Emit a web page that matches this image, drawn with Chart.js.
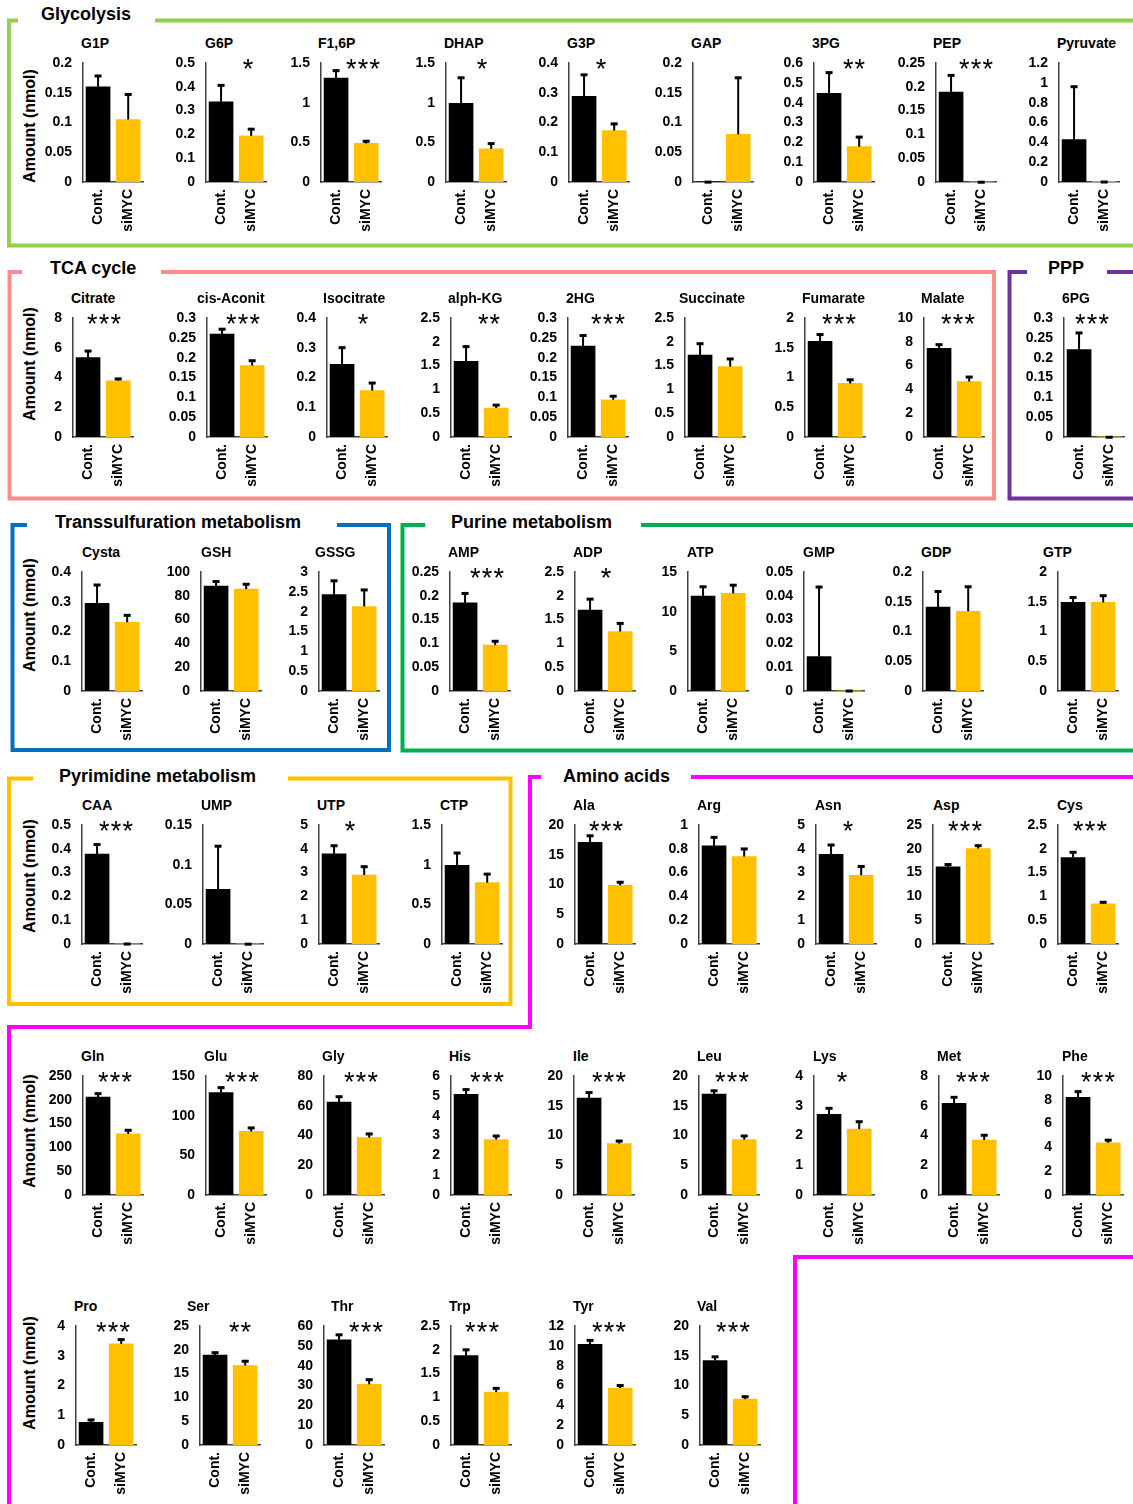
<!DOCTYPE html>
<html>
<head>
<meta charset="utf-8">
<title>Metabolite amounts: Cont. vs siMYC</title>
<script src="https://cdn.jsdelivr.net/npm/chart.js@4.4.1/dist/chart.umd.min.js"></script>
<style>
  html, body { margin: 0; padding: 0; background: #fff; }
  #page { position: relative; width: 1133px; height: 1504px; overflow: hidden;
          font-family: "Liberation Sans", Arial, Helvetica, sans-serif; color: #000; }
  #frames { position: absolute; left: 0; top: 0; }
  .panel { position: absolute; }
  .name { position: absolute; font-weight: bold; font-size: 14px; line-height: 16px; white-space: nowrap; }
  .group { position: absolute; height: 22px; line-height: 22px; font-weight: bold; font-size: 18px;
           background: #fff; white-space: nowrap; box-sizing: border-box; }
  .ylab { position: absolute; width: 150px; height: 20px; line-height: 20px; text-align: center;
          font-weight: bold; font-size: 16px; white-space: nowrap; transform: rotate(-90deg); }
</style>
</head>
<body>
<div id="page">
  <svg id="frames" width="1133" height="1504" xmlns="http://www.w3.org/2000/svg">
    <g fill="none" stroke-width="4">
      <path d="M1140 20.5H9V245.5H1140" stroke="#92D050"/>
      <path d="M9.5 272H994V498.5H9.5Z" stroke="#FF8C8C"/>
      <path d="M1140 272H1009.5V498.5H1140" stroke="#7030A0"/>
      <path d="M12.5 525H389V750H12.5Z" stroke="#0070C0"/>
      <path d="M1140 525H402.5V750.5H1140" stroke="#00B050"/>
      <path d="M9 778.5H510.5V1004H9Z" stroke="#FFC000"/>
      <path d="M1140 777H530V1027H9V1510" stroke="#FF00FF"/>
      <path d="M1140 1257H795V1510" stroke="#FF00FF"/>
    </g>
  </svg>
</div>
<script>
// ---- values (nmol) for each metabolite: control vs siMYC, mean and upper SD ----
const metabolites = ['G1P','G6P','F1,6P','DHAP','G3P','GAP','3PG','PEP','Pyruvate',
  'Citrate','cis-Aconit','Isocitrate','alph-KG','2HG','Succinate','Fumarate','Malate','6PG',
  'Cysta','GSH','GSSG','AMP','ADP','ATP','GMP','GDP','GTP',
  'CAA','UMP','UTP','CTP','Ala','Arg','Asn','Asp','Cys',
  'Gln','Glu','Gly','His','Ile','Leu','Lys','Met','Phe',
  'Pro','Ser','Thr','Trp','Tyr','Val'];

const groupLabels = ['Cont.', 'siMYC'];

const contMean = [0.160,0.337,1.31,0.993,0.288,0.0003,0.447,0.189,0.427,
  5.34,0.2595,0.244,1.59,0.229,1.72,1.61,7.45,0.2206,
  0.295,88.2,2.43,0.185,1.70,11.96,0.0145,0.141,1.49,
  0.3775,0.0689,3.79,0.993,17.07,0.825,3.77,16.2,1.817,
  205.5,129.2,62.4,5.08,16.3,16.95,2.715,6.17,8.2,
  0.76,18.9,53.06,1.88,10.15,14.2];

const contErr = [0.019,0.071,0.10,0.327,0.074,0.0003,0.107,0.036,0.539,
  0.47,0.0135,0.058,0.32,0.028,0.25,0.12,0.35,0.043,
  0.063,4.2,0.36,0.021,0.24,1.24,0.0294,0.027,0.09,
  0.0425,0.055,0.36,0.16,1.2,0.075,0.41,0.6,0.12,
  8.5,6.8,4.0,0.26,1.0,0.65,0.215,0.43,0.53,
  0.10,0.6,2.74,0.13,0.45,0.7];

const simycMean = [0.105,0.194,0.486,0.418,0.173,0.080,0.178,0.0003,0.003,
  3.78,0.180,0.156,0.61,0.094,1.48,0.90,4.66,0.0003,
  0.231,85.6,2.13,0.0965,1.25,12.3,0.0001,0.134,1.49,
  0.001,0.0002,2.90,0.773,9.86,0.735,2.89,20.07,0.845,
  128.5,80.1,38.6,2.80,8.65,9.3,2.22,3.69,4.39,
  3.40,16.7,30.6,1.11,5.74,7.7];

const simycErr = [0.043,0.030,0.034,0.072,0.024,0.096,0.051,0.0003,0.002,
  0.16,0.0135,0.027,0.07,0.010,0.17,0.07,0.42,0.0003,
  0.025,4.5,0.43,0.009,0.18,1.1,0.0001,0.042,0.12,
  0.001,0.0002,0.37,0.114,0.6,0.068,0.39,0.7,0.042,
  8.5,5.1,2.8,0.2,0.5,0.7,0.26,0.36,0.26,
  0.16,1.0,2.6,0.09,0.31,0.5];

const axisMax = [0.2,0.5,1.5,1.5,0.4,0.2,0.6,0.25,1.2,
  8,0.3,0.4,2.5,0.3,2.5,2,10,0.3,
  0.4,100,3,0.25,2.5,15,0.05,0.2,2,
  0.5,0.15,5,1.5,20,1,5,25,2.5,
  250,150,80,6,20,20,4,8,10,
  4,25,60,2.5,12,20];

const axisStep = [0.05,0.1,0.5,0.5,0.1,0.05,0.1,0.05,0.2,
  2,0.05,0.1,0.5,0.05,0.5,0.5,2,0.05,
  0.1,20,0.5,0.05,0.5,5,0.01,0.05,0.5,
  0.1,0.05,1,0.5,5,0.2,1,5,0.5,
  50,50,20,1,5,5,1,2,2,
  1,5,10,0.5,2,5];

const significance = ['','*','***','*','*','','**','***','',
  '***','***','*','**','***','','***','***','***',
  '','','','***','*','','','','',
  '***','','*','','***','','*','***','***',
  '***','***','***','***','***','***','*','***','***',
  '***','**','***','***','***','***'];

const pathwayTitles = ['Glycolysis','TCA cycle','PPP','Transsulfuration metabolism',
  'Purine metabolism','Pyrimidine metabolism','Amino acids'];
const yAxisTitle = 'Amount (nmol)';

// ---- page layout ----
const rowTop = [63, 318, 572, 825, 1076, 1326];     // pixel of the axis maximum
const rowCount = [9, 9, 9, 9, 9, 6];
const rowLabelY = [126, 364, 615, 876, 1131, 1373];  // centre of the y title
const axisX = [83,206,321,446,569,693,814,936,1059,
  73,207,327,451,568,685,805,924,1064,
  82,201,319,450,575,688,804,923,1058,
  82,203,319,442,575,699,816,933,1058,
  83,206,324,451,574,699,814,939,1063,
  76,200,324,451,575,700];
const titleX = [81,205,318,444,567,691,812,933,1057,
  71,197,323,448,566,679,802,921,1062,
  82,201,315,448,573,687,803,921,1043,
  82,201,317,440,573,697,815,933,1057,
  81,204,322,449,573,697,813,937,1062,
  74,187,331,449,573,697];
const starDx = [0,42,42,36,32,0,40,40,0,
  31,36,36,38,40,0,34,34,28,
  0,0,0,37,31,0,0,0,0,
  34,0,31,0,31,0,32,32,32,
  32,36,37,36,35,33,28,34,35,
  37,40,42,31,34,33];
// pathway heading: text left, centre y, gap start, gap end in the frame line
const pathwayPos = [[41,14,18,155],[50,268,22,161],[1048,268,1027,1107],[55,522,27,337],
  [451,522,425,641],[59,776,33,288],[563,776,541,691]];

const PLOT_W = 66, PLOT_H = 119, Y_W = 60, X_H = 55, PAD_T = 24, PAD_R = 4;
const BAR_COLORS = ['#000000', '#FFC000'];
const AXIS_COLOR = '#404040';
const FONT = '"Liberation Sans", Arial, Helvetica, sans-serif';

Chart.defaults.font.family = FONT;
Chart.defaults.color = '#000';

const page = document.getElementById('page');

pathwayTitles.forEach((t, i) => {
  const [tx, cy, g0, g1] = pathwayPos[i];
  const d = document.createElement('div');
  d.className = 'group';
  d.textContent = t;
  d.style.left = g0 + 'px';
  d.style.width = (g1 - g0) + 'px';
  d.style.top = (cy - 11) + 'px';
  d.style.paddingLeft = (tx - g0) + 'px';
  page.appendChild(d);
});

rowLabelY.forEach(cy => {
  const d = document.createElement('div');
  d.className = 'ylab';
  d.textContent = yAxisTitle;
  d.style.left = (29.5 - 75) + 'px';
  d.style.top = (cy - 10) + 'px';
  page.appendChild(d);
});

function errorBars(errs) {
  return {
    id: 'errorBars',
    afterDatasetsDraw(chart) {
      const ctx = chart.ctx, y = chart.scales.y;
      const meta = chart.getDatasetMeta(0);
      const vals = chart.data.datasets[0].data;
      ctx.save();
      ctx.strokeStyle = '#000';
      meta.data.forEach((bar, i) => {
        const top = y.getPixelForValue(vals[i] + errs[i]);
        ctx.lineWidth = 2;
        ctx.beginPath(); ctx.moveTo(bar.x, bar.y); ctx.lineTo(bar.x, top); ctx.stroke();
        ctx.lineWidth = 3;
        ctx.beginPath(); ctx.moveTo(bar.x - 3.5, top + 0.5); ctx.lineTo(bar.x + 3.5, top + 0.5); ctx.stroke();
      });
      ctx.restore();
    }
  };
}

function sigStars(text, dx) {
  return {
    id: 'sigStars',
    afterDraw(chart) {
      if (!text) return;
      const ctx = chart.ctx, a = chart.chartArea;
      ctx.save();
      ctx.fillStyle = '#000';
      ctx.font = '27px ' + FONT;
      ctx.textAlign = 'center';
      ctx.textBaseline = 'alphabetic';
      const n = text.length, gap = 11.7, cx = a.left + dx;
      for (let k = 0; k < n; k++) ctx.fillText('*', cx + (k - (n - 1) / 2) * gap, a.top + 15);
      ctx.restore();
    }
  };
}

function fmt(v) { return String(+Number(v).toFixed(6)); }

let idx = 0;
rowCount.forEach((count, r) => {
  for (let c = 0; c < count; c++, idx++) {
    const i = idx;
    const name = document.createElement('div');
    name.className = 'name';
    name.textContent = metabolites[i];
    name.style.left = titleX[i] + 'px';
    name.style.top = (rowTop[r] - 20 - 8) + 'px';
    page.appendChild(name);

    const cv = document.createElement('canvas');
    cv.className = 'panel';
    const w = Y_W + PLOT_W + PAD_R, h = PAD_T + PLOT_H + X_H;
    cv.width = w; cv.height = h;
    cv.style.width = w + 'px'; cv.style.height = h + 'px';
    cv.style.left = (axisX[i] - Y_W) + 'px';
    cv.style.top = (rowTop[r] - PAD_T) + 'px';
    page.appendChild(cv);

    new Chart(cv, {
      type: 'bar',
      data: {
        labels: groupLabels,
        datasets: [{
          data: [contMean[i], simycMean[i]],
          backgroundColor: BAR_COLORS,
          borderWidth: 0,
          barThickness: 24
        }]
      },
      options: {
        responsive: false,
        animation: false,
        events: [],
        devicePixelRatio: 1,
        layout: { padding: { top: PAD_T, right: PAD_R, left: 0, bottom: 0 } },
        plugins: { legend: { display: false }, tooltip: { enabled: false }, title: { display: false } },
        scales: {
          x: {
            offset: true,
            grid: { display: false, drawTicks: false },
            border: { display: true, color: AXIS_COLOR, width: 1.5 },
            ticks: { minRotation: 90, maxRotation: 90, autoSkip: false, padding: 7,
                     color: '#000', font: { size: 14, weight: 'bold' } },
            afterFit(s) { s.height = X_H; }
          },
          y: {
            min: 0, max: axisMax[i],
            grid: { display: false, drawTicks: false },
            border: { display: true, color: AXIS_COLOR, width: 1.5 },
            ticks: { stepSize: axisStep[i], autoSkip: false, maxTicksLimit: 50, padding: 11, color: '#000',
                     font: { size: 14, weight: 'bold', lineHeight: 1 }, callback: v => fmt(v) },
            afterFit(s) { s.width = Y_W; }
          }
        }
      },
      plugins: [errorBars([contErr[i], simycErr[i]]), sigStars(significance[i], starDx[i])]
    });
  }
});
</script>
</body>
</html>
